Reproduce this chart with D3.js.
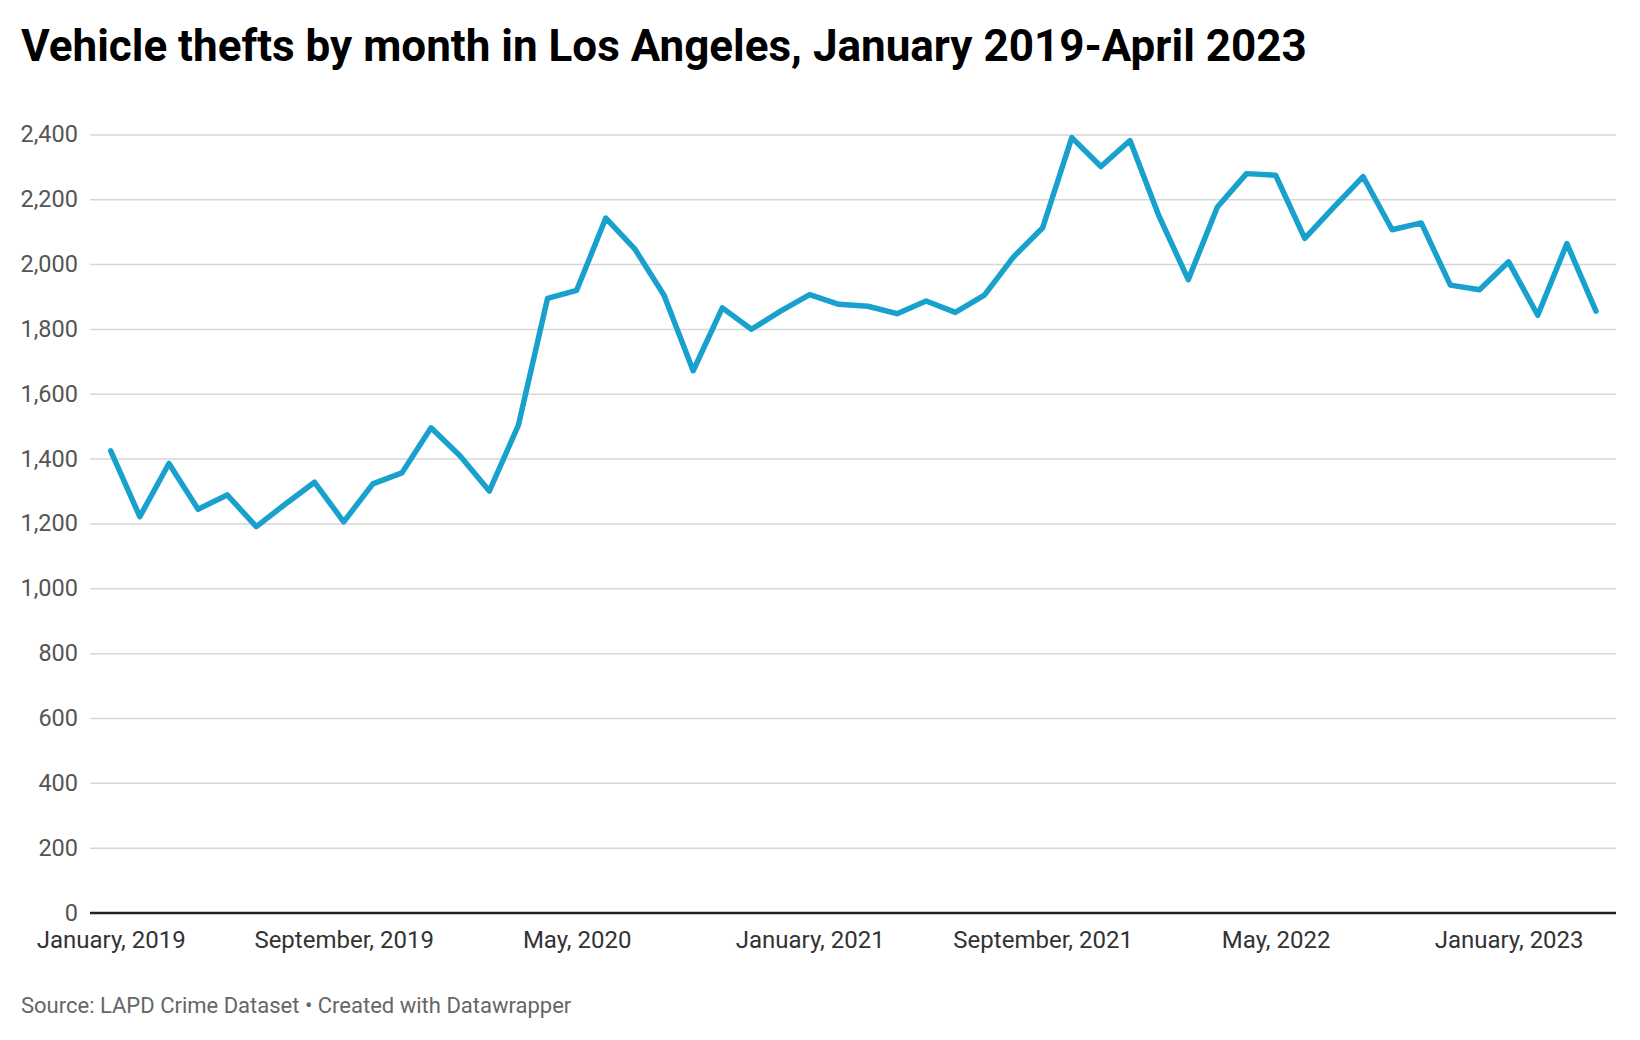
<!DOCTYPE html>
<html>
<head>
<meta charset="utf-8">
<script src="https://cdn.jsdelivr.net/npm/d3@7"></script>
<style>
  body { margin: 0; background: #fff; font-family: Roboto, "Noto Sans", sans-serif; }
  svg { display: block; }
</style>
</head>
<body>
<svg id="chart" width="1640" height="1040"></svg>
<script>
/* ---------- data ---------- */
const months = [
  '2019-01','2019-02','2019-03','2019-04','2019-05','2019-06','2019-07','2019-08','2019-09','2019-10','2019-11','2019-12',
  '2020-01','2020-02','2020-03','2020-04','2020-05','2020-06','2020-07','2020-08','2020-09','2020-10','2020-11','2020-12',
  '2021-01','2021-02','2021-03','2021-04','2021-05','2021-06','2021-07','2021-08','2021-09','2021-10','2021-11','2021-12',
  '2022-01','2022-02','2022-03','2022-04','2022-05','2022-06','2022-07','2022-08','2022-09','2022-10','2022-11','2022-12',
  '2023-01','2023-02','2023-03','2023-04'
];

const thefts = [
  1424, 1221, 1385, 1244, 1288, 1190, 1260, 1327, 1205, 1322, 1356, 1495,
  1408, 1300, 1503, 1894, 1919, 2142, 2046, 1904, 1671, 1865, 1799, 1855,
  1906, 1876, 1870, 1847, 1886, 1851, 1904, 2022, 2112, 2390, 2301, 2381,
  2147, 1952, 2176, 2279, 2274, 2079, 2176, 2270, 2106, 2127, 1935, 1921,
  2007, 1842, 2063, 1855
];

const xTickMonths = ['2019-01', '2019-09', '2020-05', '2021-01', '2021-09', '2022-05', '2023-01'];
const xTickLabels = ['January, 2019', 'September, 2019', 'May, 2020', 'January, 2021', 'September, 2021', 'May, 2022', 'January, 2023'];
const yTicks = [0, 200, 400, 600, 800, 1000, 1200, 1400, 1600, 1800, 2000, 2200, 2400];

/* ---------- layout ---------- */
const gridLeft = 90;
const gridRight = 1616;
const plotTop = 134.4;
const plotBottom = 912.5;

const svg = d3.select('#chart');

const x = d3.scalePoint()
  .domain(months)
  .range([110.7, 1596]);

const y = d3.scaleLinear()
  .domain([0, 2400])
  .range([plotBottom, plotTop]);

/* ---------- title ---------- */
svg.append('text')
  .attr('x', 21)
  .attr('y', 61)
  .attr('font-size', 44)
  .attr('font-weight', 700)
  .attr('fill', '#000')
  .text('Vehicle thefts by month in Los Angeles, January 2019-April 2023');

/* ---------- y axis + grid ---------- */
const yAxis = svg.append('g')
  .attr('transform', `translate(${gridLeft},0)`)
  .call(d3.axisLeft(y)
    .tickValues(yTicks)
    .tickFormat(d3.format(','))
    .tickSize(-(gridRight - gridLeft))
    .tickPadding(12));

yAxis.select('.domain').remove();
yAxis.selectAll('line')
  .attr('stroke', '#d6d6d6')
  .attr('stroke-width', 1.5);
yAxis.selectAll('text')
  .attr('font-family', 'Roboto, sans-serif')
  .attr('font-size', 23.5)
  .attr('fill', '#555');
yAxis.selectAll('.tick')
  .filter(d => d === 0)
  .select('line')
  .attr('stroke', '#222')
  .attr('stroke-width', 2.5);

/* ---------- x axis ---------- */
const xAxis = svg.append('g')
  .attr('transform', `translate(0,${plotBottom})`)
  .call(d3.axisBottom(x)
    .tickValues(xTickMonths)
    .tickFormat(d => xTickLabels[xTickMonths.indexOf(d)])
    .tickSize(0)
    .tickPadding(18));

xAxis.select('.domain').remove();
xAxis.selectAll('text')
  .attr('font-family', 'Roboto, sans-serif')
  .attr('font-size', 24)
  .attr('fill', '#333');

/* ---------- line ---------- */
const line = d3.line()
  .x((d, i) => x(months[i]))
  .y(d => y(d));

svg.append('path')
  .datum(thefts)
  .attr('fill', 'none')
  .attr('stroke', '#18a1cd')
  .attr('stroke-width', 5.5)
  .attr('stroke-linejoin', 'round')
  .attr('stroke-linecap', 'round')
  .attr('d', line);

/* ---------- source ---------- */
svg.append('text')
  .attr('x', 21)
  .attr('y', 1013)
  .attr('font-size', 22)
  .attr('fill', '#666')
  .text('Source: LAPD Crime Dataset • Created with Datawrapper');
</script>
</body>
</html>
